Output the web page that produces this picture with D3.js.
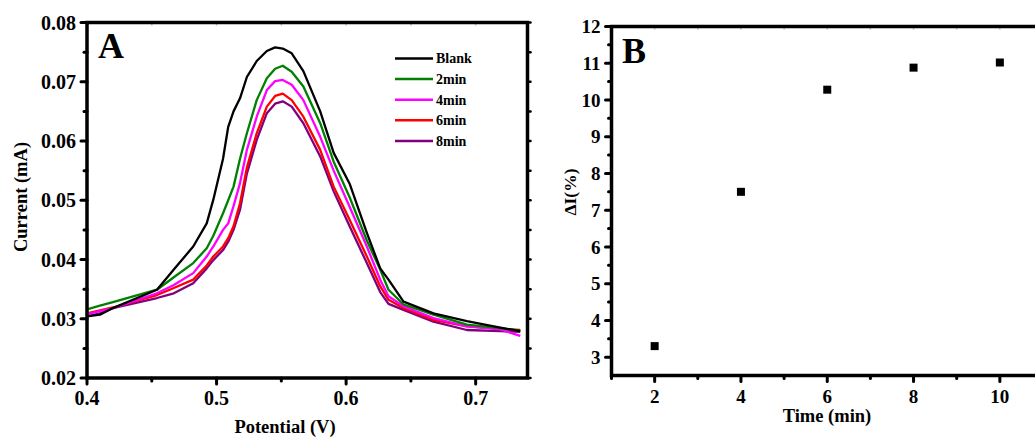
<!DOCTYPE html>
<html>
<head>
<meta charset="utf-8">
<script src="https://cdn.jsdelivr.net/npm/d3@7"></script>
<style>
  body { margin: 0; background: #fff; }
  svg { font-family: "Liberation Serif", "Times New Roman", serif; font-weight: bold; }
</style>
</head>
<body>
<svg id="chart" width="1035" height="437"></svg>
<script>
// Panel A: DPV curves, potential (V) vs current (mA)
var potential = [0.40, 0.41, 0.42, 0.454, 0.467, 0.482, 0.4924, 0.4975, 0.505, 0.509, 0.5131,
  0.5181, 0.5234, 0.531, 0.5388, 0.5452, 0.5511, 0.558, 0.567, 0.58, 0.5904, 0.6027,
  0.616, 0.6263, 0.6327, 0.6443, 0.6674, 0.6932, 0.719, 0.7344];

var blank = [0.0304, 0.0307, 0.0318, 0.0349, 0.0383, 0.0422, 0.0461, 0.0501, 0.0570, 0.0624, 0.0650,
  0.0672, 0.0708, 0.0735, 0.0752, 0.0758, 0.0756, 0.0748, 0.0718, 0.0650, 0.0580, 0.0528,
  0.0445, 0.0385, 0.0366, 0.0329, 0.0309, 0.0296, 0.0285, 0.0279];

var min2 = [0.0316, 0.0322, 0.0328, 0.0349, 0.0370, 0.0394, 0.0419, 0.0440, 0.0478, 0.0500, 0.0523,
  0.0570, 0.0613, 0.0669, 0.0706, 0.0722, 0.0727, 0.0717, 0.0692, 0.0630, 0.0565, 0.0505,
  0.0432, 0.0383, 0.0349, 0.0324, 0.0307, 0.0290, 0.0284, 0.0280];

var min4 = [0.0308, 0.0313, 0.0318, 0.0343, 0.0357, 0.0377, 0.0405, 0.0422, 0.0450, 0.0461, 0.0490,
  0.0529, 0.0585, 0.0641, 0.0686, 0.0701, 0.0703, 0.0695, 0.0669, 0.0607, 0.0550, 0.0489,
  0.0422, 0.0366, 0.0338, 0.0321, 0.0301, 0.0287, 0.0282, 0.0271];

var min6 = [0.0309, 0.0314, 0.0319, 0.0340, 0.0352, 0.0366, 0.0390, 0.0405, 0.0422, 0.0436, 0.0456,
  0.0495, 0.0555, 0.0613, 0.0658, 0.0676, 0.0680, 0.0669, 0.0641, 0.0585, 0.0523, 0.0467,
  0.0405, 0.0355, 0.0332, 0.0318, 0.0298, 0.0287, 0.0283, 0.0281];

var min8 = [0.0304, 0.0309, 0.0318, 0.0335, 0.0343, 0.0360, 0.0385, 0.0399, 0.0416, 0.0430, 0.0450,
  0.0484, 0.0545, 0.0602, 0.0647, 0.0663, 0.0667, 0.0658, 0.0630, 0.0574, 0.0515, 0.0456,
  0.0394, 0.0345, 0.0325, 0.0315, 0.0295, 0.0281, 0.0279, 0.0278];

var seriesNames = ["Blank", "2min", "4min", "6min", "8min"];
var seriesColors = ["#000000", "#008000", "#ff00ff", "#ff0000", "#800080"];

var xTicksA = [0.4, 0.5, 0.6, 0.7];
var yTicksA = [0.02, 0.03, 0.04, 0.05, 0.06, 0.07, 0.08];

// Panel B: signal change vs time
var time = [2, 4, 6, 8, 10];
var deltaI = [3.3, 7.5, 10.28, 10.88, 11.02];
var xTicksB = [2, 4, 6, 8, 10];
var yTicksB = [3, 4, 5, 6, 7, 8, 9, 10, 11, 12];

var FONT = "'Liberation Serif', 'Times New Roman', serif";
var svg = d3.select("#chart");

// Draws a framed panel with outward major/minor ticks like Origin does
function drawFrame(g, x, y, xMajor, xMinor, yMajor, yMinor, xFmt, yFmt, fontSize) {
  var x0 = x.range()[0], x1 = x.range()[1];
  var y0 = y.range()[0], y1 = y.range()[1];

  // faint mirror ticks on top / right
  g.selectAll(".mt").data(xMajor.concat(xMinor)).enter().append("line")
    .attr("x1", function(d) { return x(d); }).attr("x2", function(d) { return x(d); })
    .attr("y1", y1).attr("y2", y1 + 3)
    .attr("stroke", "#bbb").attr("stroke-width", 1.5);
  g.selectAll(".mr").data(yMajor.concat(yMinor)).enter().append("line")
    .attr("x1", x1).attr("x2", x1 + 3)
    .attr("y1", function(d) { return y(d); }).attr("y2", function(d) { return y(d); })
    .attr("stroke", "#000").attr("stroke-width", 2.5).attr("stroke-linecap", "round");

  g.append("rect")
    .attr("x", x0).attr("y", y1)
    .attr("width", x1 - x0).attr("height", y0 - y1)
    .attr("fill", "none").attr("stroke", "#000").attr("stroke-width", 3.5);

  var tick = function(sel, vals, len, horizontal) {
    sel.selectAll(null).data(vals).enter().append("line")
      .attr("x1", function(d) { return horizontal ? x(d) : x0; })
      .attr("x2", function(d) { return horizontal ? x(d) : x0 - len; })
      .attr("y1", function(d) { return horizontal ? y0 : y(d); })
      .attr("y2", function(d) { return horizontal ? y0 + len : y(d); })
      .attr("stroke", "#000").attr("stroke-width", 3).attr("stroke-linecap", "round");
  };
  tick(g, xMajor, 6, true);
  tick(g, xMinor, 3, true);
  tick(g, yMajor, 6, false);
  tick(g, yMinor, 3, false);

  g.selectAll(".xl").data(xMajor).enter().append("text")
    .attr("x", function(d) { return x(d); })
    .attr("y", y0 + 27)
    .attr("text-anchor", "middle")
    .attr("font-family", FONT).attr("font-weight", "bold")
    .style("font-size", fontSize + "px")
    .text(xFmt);
  g.selectAll(".yl").data(yMajor).enter().append("text")
    .attr("x", x0 - 11)
    .attr("y", function(d) { return y(d); })
    .attr("dy", "0.35em")
    .attr("text-anchor", "end")
    .attr("font-family", FONT).attr("font-weight", "bold")
    .style("font-size", fontSize + "px")
    .text(yFmt);
}

function label(g, text, size) {
  return g.append("text")
    .attr("font-family", FONT).attr("font-weight", "bold")
    .style("font-size", size + "px")
    .text(text);
}

// ---- Panel A ----
var xA = d3.scaleLinear().domain([0.4, 0.74]).range([87, 527.5]);
var yA = d3.scaleLinear().domain([0.02, 0.08]).range([378, 22.5]);
var gA = svg.append("g");

var curves = [blank, min2, min4, min6, min8];
var line = d3.line()
  .x(function(d, i) { return xA(potential[i]); })
  .y(function(d) { return yA(d); });

gA.selectAll("path.curve")
  .data(curves.slice().reverse())
  .enter().append("path")
  .attr("class", "curve")
  .attr("d", line)
  .attr("fill", "none")
  .attr("stroke", function(d, i) { return seriesColors[seriesColors.length - 1 - i]; })
  .attr("stroke-width", 2.3)
  .attr("stroke-linejoin", "round");

drawFrame(gA, xA, yA, xTicksA, [0.45, 0.55, 0.65],
  yTicksA, [0.025, 0.035, 0.045, 0.055, 0.065, 0.075],
  d3.format(".1f"), d3.format(".2f"), 20);

label(gA, "A", 36).attr("x", 98).attr("y", 58);

var legend = gA.selectAll("g.legend")
  .data(seriesNames)
  .enter().append("g")
  .attr("class", "legend")
  .attr("transform", function(d, i) { return "translate(395," + (58.5 + i * 20.6) + ")"; });
legend.append("line")
  .attr("x1", 0).attr("x2", 38)
  .attr("stroke", function(d, i) { return seriesColors[i]; })
  .attr("stroke-width", 2.5);
legend.append("text")
  .attr("x", 41).attr("dy", "0.35em")
  .attr("font-family", FONT).attr("font-weight", "bold")
  .style("font-size", "14px")
  .text(function(d) { return d; });

label(gA, "Potential (V)", 18.5)
  .attr("x", 285).attr("y", 433)
  .attr("text-anchor", "middle");
label(gA, "Current (mA)", 18.5)
  .attr("transform", "translate(27,197) rotate(-90)")
  .attr("text-anchor", "middle");

// ---- Panel B ----
var xB = d3.scaleLinear().domain([1, 11]).range([611.5, 1043]);
var yB = d3.scaleLinear().domain([2.5, 12]).range([375.5, 26.5]);
var gB = svg.append("g");

drawFrame(gB, xB, yB, xTicksB, [1, 3, 5, 7, 9],
  yTicksB, [3.5, 4.5, 5.5, 6.5, 7.5, 8.5, 9.5, 10.5, 11.5],
  d3.format("d"), d3.format("d"), 19);

gB.selectAll("rect.pt")
  .data(time)
  .enter().append("rect")
  .attr("class", "pt")
  .attr("x", function(d) { return xB(d) - 4; })
  .attr("y", function(d, i) { return yB(deltaI[i]) - 4; })
  .attr("width", 8).attr("height", 8)
  .attr("fill", "#000");

label(gB, "B", 36).attr("x", 622).attr("y", 63);

label(gB, "Time (min)", 18.5)
  .attr("x", 827).attr("y", 422)
  .attr("text-anchor", "middle");
label(gB, "ΔI(%)", 17.5)
  .attr("transform", "translate(576,192) rotate(-90)")
  .attr("text-anchor", "middle");
</script>
</body>
</html>
